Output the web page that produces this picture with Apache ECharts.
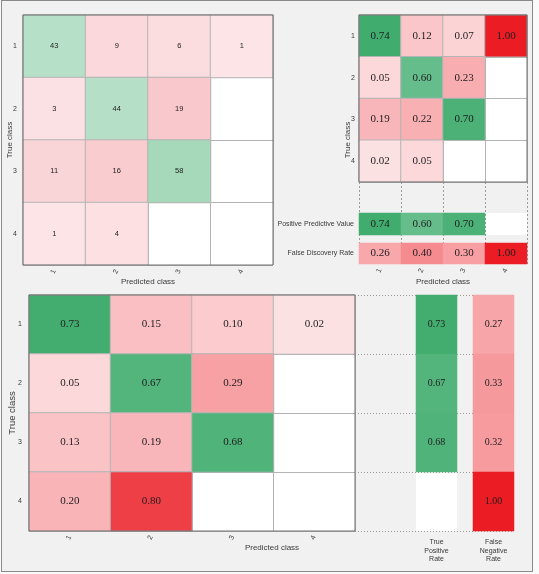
<!DOCTYPE html>
<html><head><meta charset="utf-8">
<script src="https://cdn.jsdelivr.net/npm/echarts@6/dist/echarts.min.js"></script>
<style>
html,body{margin:0;padding:0;background:#fafafa;}
#frame{position:absolute;left:1px;top:0px;width:530px;height:570px;border:1px solid #8a8a8a;background:#f1f1f1;}
#c{position:absolute;left:0;top:0;width:539px;height:574px;}
</style>
</head><body><div id="frame"></div><div id="c"></div>
<script>
// ---- data ----
const classes = ['1', '2', '3', '4'];
const counts = [
  [43, 9, 6, 1],
  [3, 44, 19, 0],
  [11, 16, 58, 0],
  [1, 4, 0, 0]
];
const colNormRates = [
  [0.74, 0.12, 0.07, 1.00],
  [0.05, 0.60, 0.23, null],
  [0.19, 0.22, 0.70, null],
  [0.02, 0.05, null, null]
];
const ppv = [0.74, 0.60, 0.70, null];
const fdr = [0.26, 0.40, 0.30, 1.00];
const rowNormRates = [
  [0.73, 0.15, 0.10, 0.02],
  [0.05, 0.67, 0.29, null],
  [0.13, 0.19, 0.68, null],
  [0.20, 0.80, null, null]
];
const tpr = [0.73, 0.67, 0.68, null];
const fnr = [0.27, 0.33, 0.32, 1.00];
const ppvLabel = 'Positive Predictive Value';
const fdrLabel = 'False Discovery Rate';
const tprLabel = 'True\nPositive\nRate';
const fnrLabel = 'False\nNegative\nRate';
const xName = 'Predicted class';
const yName = 'True class';

// ---- colour helpers ----
function hex(c){return [parseInt(c.slice(1,3),16),parseInt(c.slice(3,5),16),parseInt(c.slice(5,7),16)];}
function lerp(a,b,t){t=Math.max(0,Math.min(1,t));const A=hex(a),B=hex(b);return 'rgb('+A.map((v,i)=>Math.round(v+(B[i]-v)*t)).join(',')+')';}
function redRate(v){return lerp('#fde8ea','#ec1c24',Math.pow(v,0.85));}
function greenRate(v){return lerp('#6cbf90','#3dab6b',(v-0.58)/0.17);}
function redCount(v){return lerp('#fde6e8','#f8c8cc',v/19);}
function greenCount(v){return lerp('#b6e0c7','#a6d8ba',(v-43)/15);}
function rateColor(v,diag){return diag?greenRate(v):redRate(v);}
function countColor(v,diag){return diag?greenCount(v):redCount(v);}

function matrixData(m, fn){
  const out=[];
  m.forEach((row,r)=>row.forEach((v,c)=>{
    if(v==null||v===0) return;
    out.push({value:[c,r,v], itemStyle:{color:fn(v,r===c)}});
  }));
  return out;
}
function rowData(arr, fn){
  const out=[];
  arr.forEach((v,c)=>{ if(v==null) return; out.push({value:[c,0,v], itemStyle:{color:fn(v)}}); });
  return out;
}
function colData(arr, fn){
  const out=[];
  arr.forEach((v,r)=>{ if(v==null) return; out.push({value:[0,r,v], itemStyle:{color:fn(v)}}); });
  return out;
}

const SANS='Liberation Sans, Arial, sans-serif';
const SERIF='Liberation Serif, Times New Roman, serif';
const TXT='#3a3a3a';

// ---- layout (grids) ----
const G = {
  cnt:  {left:23,  top:15,  width:250, height:250},
  col:  {left:359, top:15,  width:168, height:167},
  dash: {left:359, top:182, width:168, height:82},
  ppv:  {left:359, top:213, width:168, height:22},
  fdr:  {left:359, top:243, width:168, height:21},
  row:  {left:29,  top:295, width:326, height:236},
  dot:  {left:355, top:295, width:159, height:236},
  tpr:  {left:416, top:295, width:41,  height:236},
  fnr:  {left:473, top:295, width:41,  height:236}
};
const order=['cnt','col','dash','ppv','fdr','row','dot','tpr','fnr'];
const grids=order.map(k=>{
  const g=Object.assign({outerBoundsMode:'none', containLabel:false}, G[k]);
  if(['cnt','col','ppv','fdr','row','tpr','fnr'].includes(k)){
    g.show=true; g.backgroundColor='#ffffff'; g.borderWidth=0;
  }
  return g;
});
const gi=k=>order.indexOf(k);

const noLine={show:false};
function catX(k, data, opts){
  return Object.assign({
    type:'category', gridIndex:gi(k), data:data,
    axisLine:noLine, axisTick:noLine,
    axisLabel:{show:false},
    splitLine:{show:false}
  }, opts||{});
}
function catY(k, data, opts){
  return Object.assign({
    type:'category', gridIndex:gi(k), data:data, inverse:true,
    axisLine:noLine, axisTick:noLine,
    axisLabel:{show:false},
    splitLine:{show:false}
  }, opts||{});
}
const tickLblX = {show:true, interval:0, rotate:65, fontSize:7, color:TXT, fontFamily:SANS, margin:5};
const tickLblY = (m)=>({show:true, interval:0, fontSize:7, color:TXT, fontFamily:SANS, margin:m});
const gridSplit = {show:true, interval:0, lineStyle:{color:'#b4b4b4', width:1}};

const xAxes=[
  catX('cnt', classes, {axisLabel:tickLblX, splitLine:gridSplit}),
  catX('col', classes, {splitLine:gridSplit}),
  catX('dash', classes, {splitLine:{show:true, interval:0, lineStyle:{color:'#9a9a9a', type:[2,2], width:1}}}),
  catX('ppv', classes),
  catX('fdr', classes, {axisLabel:tickLblX}),
  catX('row', classes, {axisLabel:tickLblX, splitLine:gridSplit}),
  catX('dot', ['']),
  catX('tpr', ['']),
  catX('fnr', [''])
];
const yAxes=[
  catY('cnt', classes, {axisLabel:tickLblY(6), splitLine:gridSplit}),
  catY('col', classes, {axisLabel:tickLblY(4), splitLine:gridSplit}),
  catY('dash', ['']),
  catY('ppv', [ppvLabel], {axisLabel:tickLblY(5)}),
  catY('fdr', [fdrLabel], {axisLabel:tickLblY(5)}),
  catY('row', classes, {axisLabel:tickLblY(7), splitLine:gridSplit}),
  catY('dot', classes, {splitLine:{show:true, interval:0, lineStyle:{color:'#9a9a9a', type:[1,2], width:1}}}),
  catY('tpr', classes),
  catY('fnr', classes)
];

function hm(k, data, fmt, font, size, border){
  return {
    type:'heatmap', xAxisIndex:gi(k), yAxisIndex:gi(k), data:data,
    itemStyle:{borderColor:'#b4b4b4', borderWidth:border},
    label:{show:true, formatter:p=>fmt(p.value[2]), fontFamily:font, fontSize:size, color:'#1e1e1e'},
    emphasis:{disabled:true}, silent:true
  };
}
const f2=v=>v.toFixed(2), f0=v=>String(v);

const series=[
  hm('cnt', matrixData(counts, countColor), f0, SANS, 7.5, 1),
  hm('col', matrixData(colNormRates, rateColor), f2, SERIF, 11, 1),
  hm('ppv', rowData(ppv, greenRate), f2, SERIF, 11, 0),
  hm('fdr', rowData(fdr, redRate), f2, SERIF, 11, 0),
  hm('row', matrixData(rowNormRates, rateColor), f2, SERIF, 11, 1),
  hm('tpr', colData(tpr, greenRate), f2, SERIF, 10, 0),
  hm('fnr', colData(fnr, redRate), f2, SERIF, 10, 0)
];

function outline(g){return {type:'rect', z:100, shape:{x:g.left, y:g.top, width:g.width, height:g.height}, style:{fill:null, stroke:'#6e6e6e', lineWidth:1}};}
function txt(x,y,text,size,rot,lh){
  const o={type:'text', z:100, x:x, y:y, style:{text:text, fontSize:size, fontFamily:SANS, fill:TXT, align:'center', verticalAlign:'middle'}};
  if(rot) o.rotation=rot;
  if(lh) o.style.lineHeight=lh;
  return o;
}
const graphic=[
  outline(G.cnt), outline(G.col), outline(G.row),
  txt(10, 140, yName, 8, Math.PI/2),
  txt(348, 140, yName, 8, Math.PI/2),
  txt(12, 413, yName, 9.5, Math.PI/2),
  txt(148, 282, xName, 8),
  txt(443, 282, xName, 8),
  txt(272, 548, xName, 8),
  txt(G.tpr.left+G.tpr.width/2, 551, tprLabel, 7, 0, 8.5),
  txt(G.fnr.left+G.fnr.width/2, 551, fnrLabel, 7, 0, 8.5)
];

const chart=echarts.init(document.getElementById('c'), null, {renderer:'canvas'});
chart.setOption({
  animation:false,
  backgroundColor:'transparent',
  grid:grids, xAxis:xAxes, yAxis:yAxes, series:series, graphic:graphic
});
</script>
</body></html>
